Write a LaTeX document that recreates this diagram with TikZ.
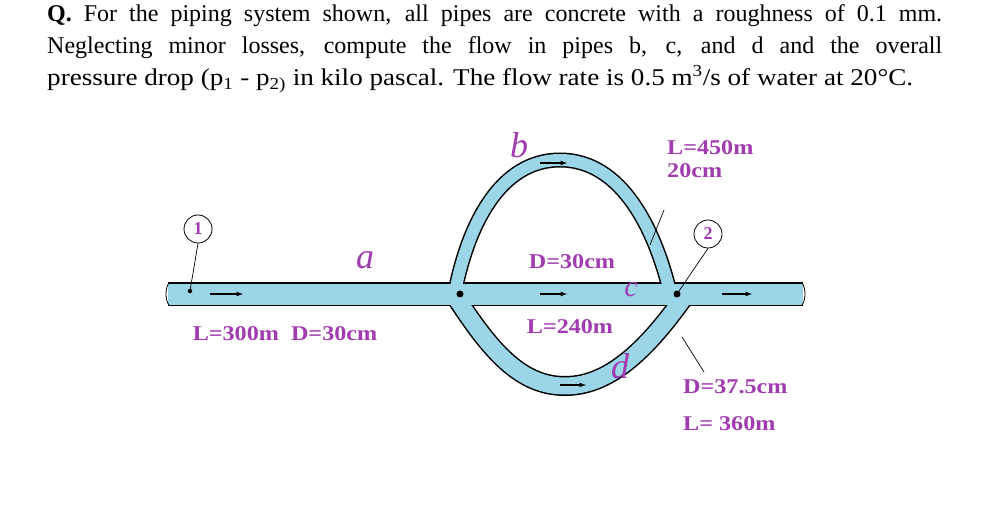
\documentclass[tikz,border=0pt]{standalone}
\usepackage{fontspec}
\setmainfont{Liberation Serif}
\newcommand{\wid}[1]{\scalebox{1.15}[1]{#1}}
\begin{document}
\begin{tikzpicture}[x=1pt,y=-1pt,
  lbl/.style={text=purp,font=\fontsize{21}{23}\selectfont\bfseries,inner sep=0},
  let/.style={text=purp,font=\fontsize{36}{36}\selectfont\itshape,inner sep=0},
  tl/.style={anchor=base west,inner sep=0,font=\fontsize{24}{26}\selectfont},
  outl/.style={draw=black,line width=#1},
  inl/.style={draw=pipeblue,line width=#1},
  arr/.style={-latex,line width=1.2pt},
  lead/.style={draw,line width=0.7pt}]
\definecolor{purp}{RGB}{160,60,175}
\definecolor{pipeblue}{RGB}{155,214,232}
\useasboundingbox (0,0) rectangle (983,508);
\fill[white] (0,0) rectangle (983,508);
% title
\node[tl] (t1) at (47,22) {\makebox[895pt][s]{\textbf{Q.} For the piping system shown, all pipes are concrete with a roughness of 0.1 mm.}};
\node[tl] (t2) at (47,54) {\makebox[895pt][s]{Neglecting minor losses, compute the flow in pipes b, c, and d and the overall}};
\node[tl] (t3) at (47,86) {\scalebox{1.13}[1]{pressure drop (p\textsubscript{1} - p\textsubscript{2)} in kilo pascal. The flow rate is 0.5 m\textsuperscript{3}/s of water at 20°C.}};
% pipes
\coordinate (L) at (168,294);
\coordinate (R) at (803,294);
\coordinate (J1) at (460,294);
\coordinate (J2) at (677,294);
\def\bpath{(455,292) .. controls (468,225) and (500,160) .. (560,160) .. controls (622,160) and (655,230) .. (670,292)}
\def\dpath{(455,296) .. controls (490,350) and (520,386) .. (565,386) .. controls (612,386) and (650,345) .. (685,296)}
\draw[outl=15pt] \bpath;
\draw[outl=20pt] \dpath;
\draw[outl=24pt] (L) -- (R);
\draw[inl=12pt] \bpath;
\draw[inl=17pt] \dpath;
\draw[inl=21pt] (L) -- (R);
\draw[line width=0.8pt] (169,283) .. controls (165,288) and (165,300) .. (169,305);
\draw[line width=0.8pt] (802,283) .. controls (806,288) and (806,300) .. (802,305);
% arrows
\draw[arr] (210,294) -- (243,294);
\draw[arr] (540,294) -- (567,294);
\draw[arr] (722,294) -- (752,294);
\draw[arr] (540,163) -- (567,163);
\draw[arr] (560,385) -- (586,385);
% dots
\fill (J1) circle (3.5);
\fill (J2) circle (3.5);
\coordinate (p1) at (190,291);
\draw[fill=black] (p1) circle (2);
% station circles
\node[draw,circle,line width=0.8pt,minimum size=28pt,inner sep=0,text=purp,font=\bfseries\fontsize{18}{18}\selectfont] (c1) at (198,229) {1};
\node[draw,circle,line width=0.8pt,minimum size=28pt,inner sep=0,text=purp,font=\bfseries\fontsize{18}{18}\selectfont] (c2) at (708,234) {2};
\draw[lead] (c1.south) -- (p1);
\draw[lead] (c2.south) -- (J2);
% leaders
\coordinate (bl) at (650,245);
\coordinate (bl2) at (664,210);
\draw[lead] (bl) -- (bl2);
\coordinate (dl) at (682,337);
\coordinate (dl2) at (704,372);
\draw[lead] (dl) -- (dl2);
% labels
\node[let] (lb) at (519,145) {b};
\node[let] (la) at (365,260) {a};
\node[let,font=\fontsize{30}{30}\selectfont\itshape] (lc) at (631,290) {c};
\node[let] (ld) at (620,366) {d};
\node[lbl,anchor=west] (l450) at (667,148) {\wid{L=450m}};
\node[lbl,anchor=west] (l20) at (667,171) {\wid{20cm}};
\node[lbl] (d30) at (572,262) {\wid{D=30cm}};
\node[lbl] (l240) at (570,327) {\wid{L=240m}};
\node[lbl] (l300) at (285,334) {\wid{L=300m\ \ D=30cm}};
\node[lbl,anchor=west] (d375) at (683,387) {\wid{D=37.5cm}};
\node[lbl,anchor=west] (l360) at (683,424) {\wid{L= 360m}};
\end{tikzpicture}
\end{document}
